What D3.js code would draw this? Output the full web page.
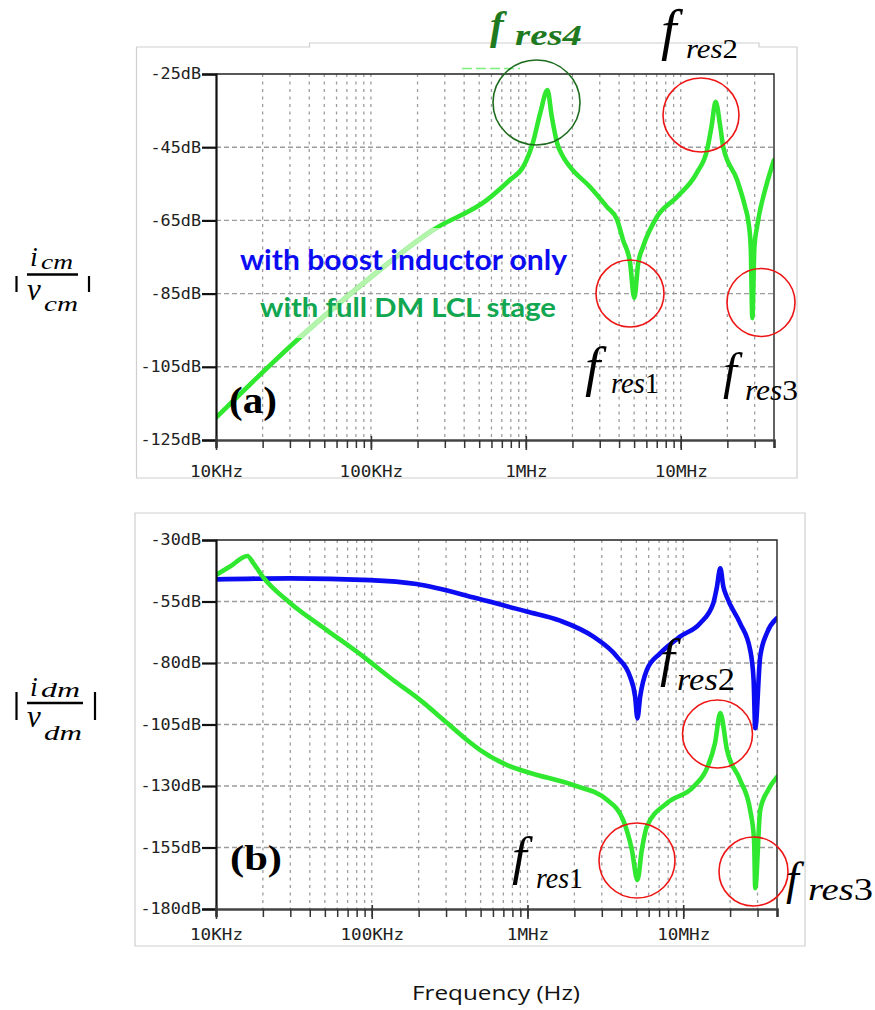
<!DOCTYPE html>
<html><head><meta charset="utf-8">
<script src="https://cdnjs.cloudflare.com/ajax/libs/d3/7.8.5/d3.min.js"></script>
<style>body{margin:0;background:#fff}svg{display:block}</style>
</head><body>
<svg id="chart" width="875" height="1010"></svg>
<script>
// ---------------- data ----------------
const xTickValues = [1e4, 1e5, 1e6, 1e7];
const xTickLabels = ["10KHz", "100KHz", "1MHz", "10MHz"];
const freqDomain = [1e4, 4e7];

const cmTickValues = [-25, -45, -65, -85, -105, -125];
const cmTickLabels = ["-25dB", "-45dB", "-65dB", "-85dB", "-105dB", "-125dB"];
const dmTickValues = [-30, -55, -80, -105, -130, -155, -180];
const dmTickLabels = ["-30dB", "-55dB", "-80dB", "-105dB", "-130dB", "-155dB", "-180dB"];

// (a) CM admittance, full DM LCL stage (green)
const cmFreq = [1e4, 3.48e4, 9.86e4, 2.52e5, 5.62e5, 7.91e5, 9.6e5, 1.11e6, 1.24e6, 1.38e6, 1.47e6, 1.59e6, 1.74e6, 1.93e6, 2.59e6, 3.34e6, 3.88e6, 4.24e6, 4.71e6, 5.01e6, 5.32e6, 5.71e6, 7.03e6, 9.46e6, 1.27e7, 1.48e7, 1.58e7, 1.68e7, 1.80e7, 1.88e7, 2.31e7, 2.60e7, 2.72e7, 2.83e7, 2.90e7, 2.99e7, 3.11e7, 3.61e7, 4.0e7];
const cmLCL  = [-118.9, -97.0, -80.7, -67.6, -59.4, -53.9, -50.4, -43.8, -35.6, -29.4, -36.6, -43.8, -47.6, -50.4, -55.8, -61.3, -64.8, -70.3, -76.6, -86.2, -76.6, -72.2, -64.0, -58.6, -52.0, -45.7, -39.4, -32.6, -39.4, -44.9, -53.9, -61.2, -64.8, -72.1, -91.7, -72.1, -66.7, -54.7, -48.5];

// (b) DM admittance, full DM LCL stage (green)
const dmFreqLCL = [1e4, 1.23e4, 1.59e4, 1.74e4, 2.0e4, 2.99e4, 5.14e4, 8.83e4, 1.37e5, 2.04e5, 3.05e5, 4.09e5, 4.97e5, 7.40e5, 1.04e6, 1.96e6, 3.25e6, 4.11e6, 4.68e6, 5.08e6, 5.42e6, 5.84e6, 7.88e6, 1.16e7, 1.43e7, 1.60e7, 1.73e7, 1.91e7, 2.32e7, 2.69e7, 2.85e7, 2.90e7, 3.12e7, 3.51e7, 4.0e7];
const dmLCL     = [-44.2, -40.8, -36.5, -39.5, -45.0, -55.6, -66.6, -77.4, -86.9, -95.0, -104.4, -111.3, -115.4, -121.5, -124.7, -129.6, -135.7, -143.8, -156.0, -168.2, -156.0, -146.5, -136.9, -130.4, -122.3, -112.5, -100.3, -115.4, -127.6, -139.8, -152.0, -171.5, -139.8, -131.6, -126.3];

// (b) DM admittance, boost inductor only (blue)
const dmFreqBoost = [1e4, 2.99e4, 9.75e4, 1.94e5, 4.72e5, 9.88e5, 1.62e6, 2.65e6, 3.75e6, 4.56e6, 4.91e6, 5.08e6, 5.29e6, 5.84e6, 7.10e6, 9.54e6, 1.28e7, 1.56e7, 1.64e7, 1.73e7, 1.81e7, 1.90e7, 2.32e7, 2.69e7, 2.83e7, 2.90e7, 3.12e7, 3.44e7, 3.99e7];
const dmBoost     = [-46.0, -45.6, -46.3, -47.9, -53.7, -59.1, -62.8, -69.3, -77.4, -85.6, -93.7, -102.5, -93.7, -82.8, -76.1, -69.3, -63.9, -55.7, -49.6, -41.5, -49.0, -53.0, -63.9, -74.7, -86.9, -106.5, -77.4, -67.9, -61.8];

// ---------------- drawing ----------------
const svg = d3.select("#chart");
const GREEN = "#2fe82f", BLUE = "#0c0cf2", RED = "#ee1515";
const MONO = "'DejaVu Sans Mono', monospace";
const SERIF = "'Liberation Serif', 'DejaVu Serif', serif";

const gridFreqs = [];
for (let e = 4; e <= 7; e++) for (let k = 1; k <= 9; k++) { const f = k * Math.pow(10, e); if (f <= freqDomain[1]) gridFreqs.push(f); }

function panel(o) {
  const g = svg.append("g");
  g.append("path").attr("d", o.frame).attr("fill", "none").attr("stroke", "#cfcfcf").attr("stroke-width", 1.2);

  const x = d3.scaleLog().domain(freqDomain).range([o.left, o.right]);
  const y = d3.scaleLinear().domain([o.ymin, o.ymax]).range([o.bottom, o.top]);

  g.append("g").selectAll("line").data(gridFreqs.filter(f => f > freqDomain[0] && f < freqDomain[1]))
    .join("line").attr("x1", d => x(d)).attr("x2", d => x(d)).attr("y1", o.top).attr("y2", o.bottom)
    .attr("stroke", "#9c9c9c").attr("stroke-width", 1.3).attr("stroke-dasharray", "3,4.5");
  g.append("g").selectAll("line").data(o.yTicks.filter(v => v > o.ymin && v < o.ymax))
    .join("line").attr("x1", o.left).attr("x2", o.right).attr("y1", d => y(d)).attr("y2", d => y(d))
    .attr("stroke", "#9c9c9c").attr("stroke-width", 1.4).attr("stroke-dasharray", "5,3");

  const cid = "clip" + o.id;
  svg.append("defs").append("clipPath").attr("id", cid).append("rect")
    .attr("x", o.left).attr("y", o.top - 2).attr("width", o.right - o.left).attr("height", o.bottom - o.top + 4);

  const line = d3.line().x(d => x(d[0])).y(d => y(d[1])).curve(d3.curveMonotoneX);
  const curves = g.append("g").attr("clip-path", `url(#${cid})`);
  o.series.forEach(s => {
    curves.append("path").attr("d", line(d3.zip(s.f, s.v))).attr("fill", "none")
      .attr("stroke", s.color).attr("stroke-width", 4.6).attr("stroke-linejoin", "round").attr("stroke-linecap", "round");
    if (s.lightRect) {
      const lid = "light" + o.id;
      svg.append("defs").append("clipPath").attr("id", lid).append("rect")
        .attr("x", s.lightRect[0]).attr("y", s.lightRect[1]).attr("width", s.lightRect[2]).attr("height", s.lightRect[3]);
      curves.append("path").attr("d", line(d3.zip(s.f, s.v))).attr("fill", "none").attr("clip-path", `url(#${lid})`)
        .attr("stroke", "#b4f4ac").attr("stroke-width", 4.6);
    }
  });

  g.append("path").attr("d", `M${o.left},${o.top}H${o.right}V${o.bottom}`).attr("fill", "none")
    .attr("stroke", "#222").attr("stroke-width", 1.4);

  const ya = g.append("g").attr("transform", `translate(${o.left},0)`)
    .call(d3.axisLeft(y).tickValues(o.yTicks).tickFormat((d, i) => o.yLabels[i]).tickSize(14).tickPadding(1));
  ya.select(".domain").attr("stroke", "#111").attr("stroke-width", 2.2);
  ya.selectAll(".tick line").attr("stroke", "#111").attr("stroke-width", 2.2);
  ya.selectAll("text").attr("font-family", MONO).attr("font-size", 15).attr("fill", "#222")
    .attr("textLength", (d, i) => o.yLabels[i].length * 10.1).attr("lengthAdjust", "spacingAndGlyphs");

  const xa = g.append("g").attr("transform", `translate(0,${o.bottom})`)
    .call(d3.axisBottom(x).tickValues(gridFreqs).tickFormat("").tickSize(8));
  xa.select(".domain").attr("stroke", "#444").attr("stroke-width", 2.6);
  xa.selectAll(".tick line").attr("stroke", "#333").attr("stroke-width", 1.5);
  const xm = g.append("g").attr("transform", `translate(0,${o.bottom - 4})`)
    .call(d3.axisBottom(x).tickValues(xTickValues).tickFormat((d, i) => xTickLabels[i]).tickSize(14));
  xm.select(".domain").remove();
  xm.selectAll(".tick line").attr("stroke", "#333").attr("stroke-width", 1.6);
  xm.selectAll("text").attr("dy", null).attr("y", o.xLabelY - o.bottom + 4)
    .attr("font-family", MONO).attr("font-size", 15).attr("fill", "#222")
    .attr("textLength", (d, i) => xTickLabels[i].length * 10.6).attr("lengthAdjust", "spacingAndGlyphs");
  return g;
}

panel({
  id: "a", left: 216, right: 774, top: 74, bottom: 440, ymin: -125, ymax: -25,
  yTicks: cmTickValues, yLabels: cmTickLabels, xLabelY: 477,
  frame: "M136.5,478V47H309.5V43H759V47H797V478Z",
  series: [{ f: cmFreq, v: cmLCL, color: GREEN, lightRect: [238, 228, 340, 110] }]
});
panel({
  id: "b", left: 216, right: 777, top: 540, bottom: 909, ymin: -180, ymax: -30,
  yTicks: dmTickValues, yLabels: dmTickLabels, xLabelY: 940,
  frame: "M135,946V513H805V946Z",
  series: [{ f: dmFreqBoost, v: dmBoost, color: BLUE }, { f: dmFreqLCL, v: dmLCL, color: GREEN }]
});

// ---------------- annotations ----------------
const ann = svg.append("g");
function ellipse(cx, cy, rx, ry, color) {
  ann.append("ellipse").attr("cx", cx).attr("cy", cy).attr("rx", rx).attr("ry", ry)
    .attr("fill", "none").attr("stroke", color).attr("stroke-width", 1.6);
}
function fres(fx, fy, fSize, sx, sy, sSize, sW, num, color, bold) {
  ann.append("text").attr("x", fx).attr("y", fy).attr("font-family", SERIF).attr("font-style", "italic")
    .attr("font-weight", bold ? "bold" : "normal").attr("font-size", fSize).attr("fill", color).text("f");
  const t = ann.append("text").attr("x", sx).attr("y", sy).attr("font-family", SERIF)
    .attr("font-weight", bold ? "bold" : "normal").attr("font-size", sSize).attr("fill", color)
    .attr("textLength", sW).attr("lengthAdjust", "spacingAndGlyphs");
  t.append("tspan").attr("font-style", "italic").text("res");
  t.append("tspan").attr("font-style", bold ? "italic" : "normal").text(num);
}
ann.append("line").attr("x1", 462).attr("x2", 520).attr("y1", 68.5).attr("y2", 68.5)
  .attr("stroke", "#7cf07c").attr("stroke-width", 1.5).attr("stroke-dasharray", "10,4");

// (a)
ellipse(536.5, 102.5, 43.5, 42.5, "#1d6b1d");
ellipse(701, 115, 38, 37, RED);
ellipse(630, 293.5, 34, 33.5, RED);
ellipse(761, 302.5, 34, 34, RED);
fres(490, 39, 41, 515, 45, 29, 67, "4", "#1f7a1f", true);
fres(661, 49, 56, 686, 58, 28, 52, "2", "#000", false);
fres(585, 385, 55, 611, 393, 29, 48, "1", "#000", false);
fres(723, 388, 50, 745, 400, 29, 53, "3", "#000", false);
ann.append("text").attr("x", 229).attr("y", 413).attr("font-family", SERIF).attr("font-weight", "bold")
  .attr("font-size", 37).attr("textLength", 48).attr("lengthAdjust", "spacingAndGlyphs").text("(a)");
ann.append("text").attr("x", 240).attr("y", 270).attr("font-family", "Lato, 'Open Sans', sans-serif").attr("font-weight", "bold")
  .attr("font-size", 29).attr("fill", BLUE).attr("textLength", 327).attr("lengthAdjust", "spacingAndGlyphs").text("with boost inductor only");
ann.append("text").attr("x", 260).attr("y", 317).attr("font-family", "Lato, 'Open Sans', sans-serif").attr("font-weight", "bold")
  .attr("font-size", 27).attr("fill", "#11a750").attr("textLength", 296).attr("lengthAdjust", "spacingAndGlyphs").text("with full DM LCL stage");

// (b)
ellipse(717.5, 734, 35, 34, RED);
ellipse(637, 860.5, 38, 37.5, RED);
ellipse(753.5, 871.5, 34.5, 34.5, RED);
fres(660, 676, 53, 677, 690, 32, 58, "2", "#000", false);
fres(512, 874, 53, 536, 888, 29, 47, "1", "#000", false);
fres(786, 894, 46, 808, 900, 31, 65, "3", "#000", false);
ann.append("text").attr("x", 230).attr("y", 870).attr("font-family", SERIF).attr("font-weight", "bold")
  .attr("font-size", 35).attr("textLength", 52).attr("lengthAdjust", "spacingAndGlyphs").text("(b)");

// y-axis quantity labels  |i_x / v_x|
function frac(sub, ny, nsy, nsw, dy, dsy, dsw, barY, barX2, pipeY1, pipeY2, pipeX2) {
  const it = (x, y, size) => ann.append("text").attr("x", x).attr("y", y).attr("font-family", SERIF)
    .attr("font-style", "italic").attr("font-size", size);
  it(30, ny, 28).text("i");
  it(41, nsy, 21).attr("textLength", nsw).attr("lengthAdjust", "spacingAndGlyphs").text(sub);
  it(27, dy, 31).text("v");
  it(44, dsy, 21).attr("textLength", dsw).attr("lengthAdjust", "spacingAndGlyphs").text(sub);
  ann.append("line").attr("x1", 27).attr("x2", barX2).attr("y1", barY).attr("y2", barY).attr("stroke", "#000").attr("stroke-width", 2.5);
  [16.5, pipeX2].forEach(px => ann.append("line").attr("x1", px).attr("x2", px).attr("y1", pipeY1).attr("y2", pipeY2)
    .attr("stroke", "#000").attr("stroke-width", 2.2));
}
frac("cm", 266, 269, 32, 300, 311, 34, 274.5, 78, 276, 292, 89);
frac("dm", 696, 697, 39, 727, 740, 38, 703, 83, 692, 720, 95);

svg.append("text").attr("x", 412).attr("y", 1000).attr("font-family", "'Open Sans', 'Noto Sans', sans-serif")
  .attr("font-size", 20).attr("fill", "#111").attr("textLength", 168).attr("lengthAdjust", "spacingAndGlyphs").text("Frequency (Hz)");
</script>
</body></html>
